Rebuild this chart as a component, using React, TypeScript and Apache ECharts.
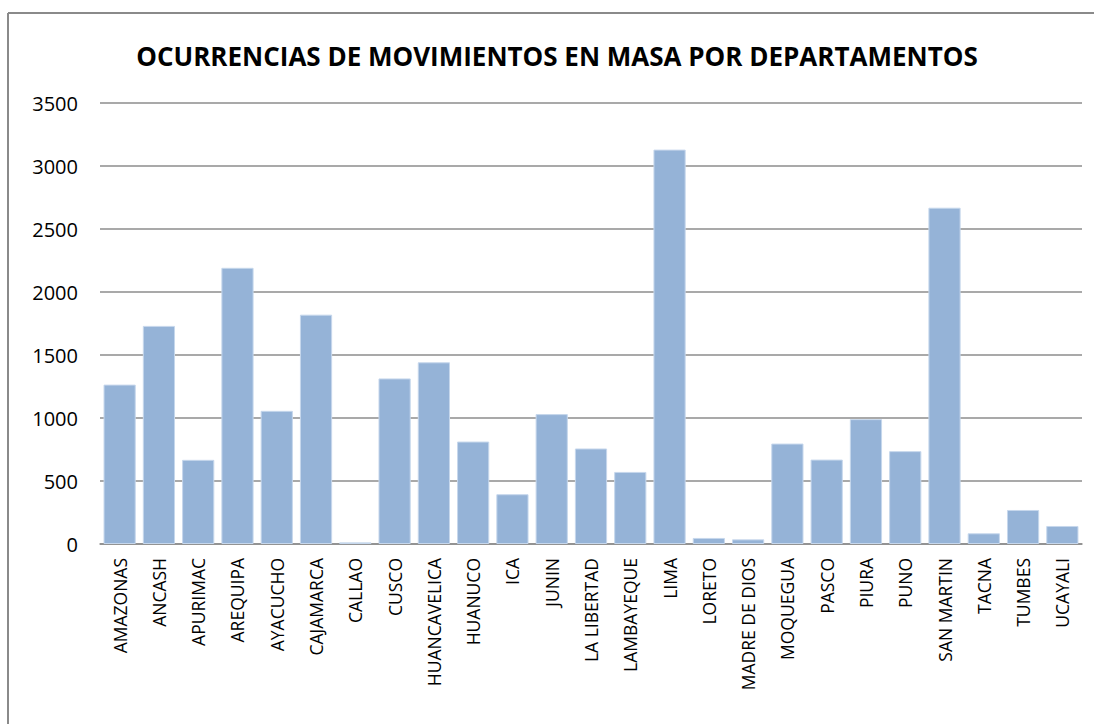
import React, { useEffect, useRef } from "react";
import * as echarts from "echarts";

const TITLE = "OCURRENCIAS DE MOVIMIENTOS EN MASA POR DEPARTAMENTOS";

const departamentos = [
  "AMAZONAS", "ANCASH", "APURIMAC", "AREQUIPA", "AYACUCHO", "CAJAMARCA", "CALLAO",
  "CUSCO", "HUANCAVELICA", "HUANUCO", "ICA", "JUNIN", "LA LIBERTAD", "LAMBAYEQUE",
  "LIMA", "LORETO", "MADRE DE DIOS", "MOQUEGUA", "PASCO", "PIURA", "PUNO",
  "SAN MARTIN", "TACNA", "TUMBES", "UCAYALI",
];

const ocurrencias = [
  1265, 1731, 668, 2192, 1057, 1820, 13,
  1314, 1442, 813, 395, 1031, 758, 572,
  3130, 48, 37, 797, 670, 991, 737,
  2669, 85, 270, 143,
];

const yTicks = [0, 500, 1000, 1500, 2000, 2500, 3000, 3500];

const FONT = "'Open Sans', 'Noto Sans', sans-serif";

export default function App() {
  const ref = useRef<HTMLDivElement>(null);
  useEffect(() => {
    if (!ref.current) return;
    const chart = echarts.init(ref.current, undefined, { renderer: "svg" });
    chart.setOption({
      animation: false,
      backgroundColor: "#ffffff",
      title: {
        text: TITLE,
        left: 552,
        top: 38,
        textAlign: "center",
        textStyle: {
          fontFamily: FONT,
          fontWeight: "bold",
          fontSize: 26,
          color: "#000000",
        },
      },
      graphic: [
        {
          type: "line",
          shape: { x1: 8, y1: 13, x2: 1094, y2: 13 },
          style: { stroke: "#8a8a8a", lineWidth: 2 },
          silent: true,
        },
        {
          type: "line",
          shape: { x1: 8, y1: 13, x2: 8, y2: 724 },
          style: { stroke: "#8a8a8a", lineWidth: 2 },
          silent: true,
        },
      ],
      grid: { left: 100, right: 15, top: 103, bottom: 180 },
      xAxis: {
        type: "category",
        data: departamentos,
        axisLine: { show: true, lineStyle: { color: "#8c8c8c", width: 1.5 } },
        axisTick: { show: false },
        axisLabel: {
          rotate: 90,
          interval: 0,
          margin: 14,
          fontFamily: FONT,
          fontSize: 17.5,
          color: "#000000",
        },
      },
      yAxis: {
        type: "value",
        min: yTicks[0],
        max: yTicks[yTicks.length - 1],
        interval: 500,
        axisLine: { show: false },
        axisTick: { show: false },
        splitLine: { lineStyle: { color: "#8c8c8c", width: 1.5 } },
        axisLabel: {
          margin: 22,
          fontFamily: FONT,
          fontSize: 20,
          color: "#000000",
          formatter: (v: number) => String(v),
        },
      },
      series: [
        {
          type: "bar",
          data: ocurrencias,
          barCategoryGap: "18%",
          itemStyle: {
            color: "#95b3d7",
            borderColor: "#c6d7ec",
            borderWidth: 1,
          },
        },
      ],
    });
    return () => chart.dispose();
  }, []);
  return (
    <div
      ref={ref}
      style={{ position: "fixed", left: 0, top: 0, width: 1097, height: 724, overflow: "hidden" }}
    />
  );
}
